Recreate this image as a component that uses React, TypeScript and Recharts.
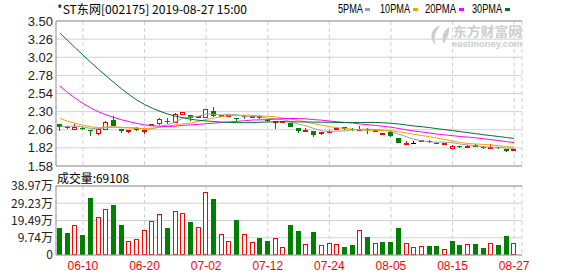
import React from 'react';
import { ComposedChart, Bar, Line, XAxis, YAxis, CartesianGrid, ReferenceLine } from 'recharts';

// trading days shown (2019)
const dates = [
  '06-04', '06-05', '06-06', '06-10', '06-11', '06-12', '06-13', '06-14', '06-17', '06-18',
  '06-19', '06-20', '06-21', '06-24', '06-25', '06-26', '06-27', '06-28', '07-01', '07-02',
  '07-03', '07-04', '07-05', '07-08', '07-09', '07-10', '07-11', '07-12', '07-15', '07-16',
  '07-17', '07-18', '07-19', '07-22', '07-23', '07-24', '07-25', '07-26', '07-29', '07-30',
  '07-31', '08-01', '08-02', '08-05', '08-06', '08-07', '08-08', '08-09', '08-12', '08-13',
  '08-14', '08-15', '08-16', '08-19', '08-20', '08-21', '08-22', '08-23', '08-26', '08-27',
];
const dateTicks = ['06-10', '06-20', '07-02', '07-12', '07-24', '08-05', '08-15', '08-27'];

const opens = [
  2.13, 2.10, 2.06, 2.08, 2.06, 2.00, 2.06, 2.19, 2.07, 2.03,
  2.08, 2.05, 2.12, 2.13, 2.18, 2.15, 2.26, 2.25, 2.22, 2.22,
  2.31, 2.24, 2.25, 2.22, 2.24, 2.22, 2.24, 2.19, 2.16, 2.16,
  2.15, 2.08, 2.05, 2.05, 2.00, 2.04, 2.07, 2.09, 2.07, 2.04,
  2.07, 2.05, 2.01, 2.03, 1.95, 1.88, 1.89, 1.91, 1.91, 1.89,
  1.88, 1.81, 1.85, 1.83, 1.86, 1.83, 1.82, 1.83, 1.81, 1.80,
];
const highs = [
  2.13, 2.11, 2.14, 2.09, 2.06, 2.08, 2.17, 2.24, 2.07, 2.06,
  2.09, 2.06, 2.14, 2.21, 2.22, 2.28, 2.30, 2.26, 2.24, 2.33,
  2.36, 2.26, 2.27, 2.22, 2.25, 2.25, 2.25, 2.20, 2.17, 2.18,
  2.15, 2.08, 2.08, 2.05, 2.03, 2.06, 2.09, 2.10, 2.08, 2.11,
  2.08, 2.07, 2.02, 2.04, 1.95, 1.91, 1.91, 1.93, 1.92, 1.90,
  1.89, 1.86, 1.85, 1.86, 1.87, 1.84, 1.87, 1.83, 1.81, 1.82,
];
const lows = [
  2.05, 2.07, 2.06, 2.06, 1.98, 1.99, 2.06, 2.11, 2.02, 2.02,
  2.05, 2.00, 2.11, 2.12, 2.13, 2.15, 2.25, 2.18, 2.21, 2.21,
  2.23, 2.24, 2.24, 2.17, 2.20, 2.21, 2.20, 2.16, 2.07, 2.15,
  2.09, 2.02, 2.04, 1.97, 1.99, 2.03, 2.06, 2.06, 2.05, 2.04,
  2.00, 2.04, 1.99, 1.96, 1.89, 1.88, 1.88, 1.90, 1.89, 1.87,
  1.87, 1.80, 1.82, 1.82, 1.83, 1.81, 1.81, 1.81, 1.76, 1.79,
];
const closes = [
  2.10, 2.08, 2.09, 2.07, 2.05, 2.07, 2.16, 2.11, 2.04, 2.06,
  2.06, 2.06, 2.13, 2.20, 2.17, 2.27, 2.29, 2.22, 2.24, 2.33,
  2.24, 2.25, 2.26, 2.21, 2.23, 2.24, 2.21, 2.17, 2.17, 2.18,
  2.10, 2.05, 2.06, 1.99, 2.03, 2.05, 2.08, 2.07, 2.06, 2.07,
  2.06, 2.06, 2.02, 1.98, 1.89, 1.89, 1.89, 1.92, 1.90, 1.88,
  1.89, 1.85, 1.83, 1.84, 1.83, 1.82, 1.83, 1.82, 1.78, 1.81,
];
// closes of the 29 sessions before the window, only used for the moving averages
const priorCloses = [
  5.00, 5.00, 4.95, 4.90, 4.85, 4.80, 4.70, 4.60, 4.40, 4.20,
  3.80, 3.61, 3.43, 3.26, 3.10, 2.95, 2.80, 2.66, 2.58, 2.51,
  2.45, 2.38, 2.30, 2.25, 2.22, 2.05, 2.08, 2.12, 2.15,
];
const volumes = [
  152000, 126000, 172000, 112000, 320000, 212000, 262000, 283000, 169000, 79000,
  88000, 144000, 191000, 230000, 152000, 251000, 240000, 186000, 156000, 358000,
  315000, 118000, 79000, 197000, 118000, 71000, 96000, 81000, 94000, 43000,
  169000, 135000, 62000, 129000, 54000, 66000, 60000, 45000, 56000, 139000,
  101000, 67000, 73000, 73000, 152000, 67000, 43000, 49000, 51000, 51000,
  32000, 79000, 56000, 60000, 62000, 39000, 66000, 56000, 107000, 69108,
];

const priceTicks = [1.58, 1.82, 2.06, 2.30, 2.54, 2.78, 3.02, 3.26, 3.50];
const volumeTicks = [0, 97425, 194850, 292275, 389700];

const RED = '#ff0000';
const GREEN = '#008000';
const maColors = { ma5: '#a0a0a0', ma10: '#f0a30a', ma20: '#ff00ff', ma30: '#007035' };

function movingAverage(n: number) {
  const all = priorCloses.concat(closes);
  return closes.map((_, i) => {
    const end = priorCloses.length + i;
    let s = 0;
    for (let k = end - n + 1; k <= end; k++) s += all[k];
    return s / n;
  });
}

const ma5 = movingAverage(5);
const ma10 = movingAverage(10);
const ma20 = movingAverage(20);
const ma30 = movingAverage(30);

const rows = dates.map((date, i) => ({
  date,
  open: opens[i],
  high: highs[i],
  low: lows[i],
  close: closes[i],
  prevClose: i === 0 ? priorCloses[priorCloses.length - 1] : closes[i - 1],
  volume: volumes[i],
  ma5: ma5[i],
  ma10: ma10[i],
  ma20: ma20[i],
  ma30: ma30[i],
}));

function Candle(props: any) {
  const { x, y, width, height, payload } = props;
  if (!payload) return null;
  const { open, close, high, low } = payload;
  const span = high - low;
  const py = (p: number) => (span > 0 ? y + ((high - p) / span) * height : y);
  const left = Math.round(x);
  const w = Math.max(Math.round(width), 3);
  const cx = left + Math.floor(w / 2) + 0.5;
  const top = Math.round(py(Math.max(open, close)));
  const bottom = Math.round(py(Math.min(open, close)));
  const hi = Math.round(py(high));
  const lo = Math.round(py(low));

  if (close > open) {
    return (
      <g>
        {hi < top && <line x1={cx} x2={cx} y1={hi} y2={top} stroke={RED} />}
        {lo > bottom && <line x1={cx} x2={cx} y1={bottom} y2={lo} stroke={RED} />}
        <rect x={left + 0.5} y={top + 0.5} width={w - 1} height={Math.max(bottom - top - 1, 1)} fill="#fff" stroke={RED} />
      </g>
    );
  }
  if (close < open) {
    return (
      <g>
        <line x1={cx} x2={cx} y1={hi} y2={lo} stroke={GREEN} />
        <rect x={left} y={top} width={w} height={Math.max(bottom - top, 1)} fill={GREEN} />
      </g>
    );
  }
  return (
    <g>
      <line x1={cx} x2={cx} y1={hi} y2={lo} stroke="#000" />
      <line x1={left} x2={left + w} y1={top + 0.5} y2={top + 0.5} stroke="#000" />
    </g>
  );
}

function VolumeBar(props: any) {
  const { x, y, width, height, payload } = props;
  if (!payload) return null;
  const left = Math.round(x);
  const w = Math.max(Math.round(width), 3);
  const top = Math.round(y);
  const h = Math.round(y + height) - top;
  if (payload.close >= payload.prevClose) {
    return <rect x={left + 0.5} y={top + 0.5} width={w - 1} height={Math.max(h - 1, 1)} fill="#fff" stroke={RED} />;
  }
  return <rect x={left} y={top} width={w} height={h} fill={GREEN} />;
}

const font = '"Liberation Sans", "Noto Sans CJK SC", sans-serif';
const cjk = '"Noto Sans CJK SC", "Liberation Sans", sans-serif';

const volumeLabel = (v: number) => (v === 0 ? '0' : (Math.round(v / 100) / 100).toFixed(2) + '万');

export default function App() {
  return (
    <div style={{ position: 'absolute', left: 0, top: 0, width: 578, height: 276, background: '#fff', fontFamily: font }}>
      <div style={{ position: 'absolute', left: 0, top: 0 }}>
        <ComposedChart width={578} height={176} data={rows} margin={{ top: 21, right: 56, bottom: 10, left: 0 }}>
          <CartesianGrid vertical={false} stroke="#d0d0d0" />
          <CartesianGrid horizontal={false} stroke="#d0d0d0" strokeDasharray="4 3" />
          <XAxis dataKey="date" ticks={dateTicks} interval={0} hide padding={{ left: 0, right: 4 }} />
          <YAxis
            domain={[1.58, 3.5]}
            ticks={priceTicks}
            interval={0}
            width={56}
            allowDataOverflow
            tickLine={false}
            tickSize={0}
            tickMargin={3}
            axisLine={{ stroke: '#999' }}
            tick={{ fontSize: 13, fill: '#222', fontFamily: font }}
            tickFormatter={(v: number) => v.toFixed(2)}
          />
          <YAxis yAxisId="r" orientation="right" width={0} domain={[1.58, 3.5]} tick={false} tickLine={false} axisLine={{ stroke: '#999' }} />
          <ReferenceLine y={3.5} stroke="#999" />
          <ReferenceLine y={1.58} stroke="#999" />
          <Bar dataKey={(d: any) => [d.low, d.high]} shape={Candle} barSize={5} isAnimationActive={false} />
          <Line dataKey="ma5" stroke={maColors.ma5} dot={false} strokeWidth={1} isAnimationActive={false} />
          <Line dataKey="ma10" stroke={maColors.ma10} dot={false} strokeWidth={1} isAnimationActive={false} />
          <Line dataKey="ma20" stroke={maColors.ma20} dot={false} strokeWidth={1} isAnimationActive={false} />
          <Line dataKey="ma30" stroke={maColors.ma30} dot={false} strokeWidth={1} isAnimationActive={false} />
        </ComposedChart>
      </div>
      <div style={{ position: 'absolute', left: 0, top: 0 }}>
        <ComposedChart width={578} height={276} data={rows} margin={{ top: 186, right: 56, bottom: 0, left: 0 }}>
          <CartesianGrid vertical={false} stroke="#d0d0d0" />
          <CartesianGrid horizontal={false} stroke="#d0d0d0" strokeDasharray="4 3" />
          <XAxis
            dataKey="date"
            ticks={dateTicks}
            interval={0}
            height={21}
            padding={{ left: 0, right: 4 }}
            tickLine={false}
            tickSize={0}
            tickMargin={6}
            axisLine={{ stroke: '#999' }}
            tick={{ fontSize: 12, fill: RED, fontFamily: font }}
          />
          <YAxis
            domain={[0, 389700]}
            ticks={volumeTicks}
            interval={0}
            width={56}
            allowDataOverflow
            tickLine={false}
            tickSize={0}
            tickMargin={3}
            axisLine={{ stroke: '#999' }}
            tick={{ fontSize: 12, fill: '#222', fontFamily: cjk }}
            tickFormatter={volumeLabel}
          />
          <YAxis yAxisId="r" orientation="right" width={0} domain={[0, 389700]} tick={false} tickLine={false} axisLine={{ stroke: '#999' }} />
          <ReferenceLine y={389700} stroke="#999" />
          <Bar dataKey="volume" shape={VolumeBar} barSize={5} isAnimationActive={false} />
        </ComposedChart>
      </div>
      <svg width={578} height={276} style={{ position: 'absolute', left: 0, top: 0, pointerEvents: 'none' }}>
        <g fill="#cdcdcd">
          <path d="M441,25 C431,28 428,38 436,45 C433,38 435,31 441,25 Z" />
          <path d="M449,27 C443,31 441,38 444,44 C447,38 450,33 449,27 Z" />
          <text x={453} y={30} fontSize={13} fontWeight="bold" fontFamily={cjk} dominantBaseline="central" textLength={69} lengthAdjust="spacingAndGlyphs">东方财富网</text>
          <text x={452} y={44} fontSize={9} fontWeight="bold" fontFamily={font} dominantBaseline="central" textLength={70} lengthAdjust="spacingAndGlyphs">eastmoney.com</text>
        </g>
        <text x={57} y={8.5} fontSize={12} fontFamily={cjk} dominantBaseline="central" textLength={190} lengthAdjust="spacingAndGlyphs">*ST东网[002175] 2019-08-27 15:00</text>
        <text x={338} y={8.5} fontSize={12} fontFamily={font} dominantBaseline="central" textLength={25} lengthAdjust="spacingAndGlyphs">5PMA</text>
        <rect x={365} y={8} width={5} height={3} fill={maColors.ma5} />
        <text x={380} y={8.5} fontSize={12} fontFamily={font} dominantBaseline="central" textLength={30} lengthAdjust="spacingAndGlyphs">10PMA</text>
        <rect x={413} y={8} width={5} height={3} fill={maColors.ma10} />
        <text x={425} y={8.5} fontSize={12} fontFamily={font} dominantBaseline="central" textLength={31} lengthAdjust="spacingAndGlyphs">20PMA</text>
        <rect x={459} y={8} width={5} height={3} fill={maColors.ma20} />
        <text x={472} y={8.5} fontSize={12} fontFamily={font} dominantBaseline="central" textLength={30} lengthAdjust="spacingAndGlyphs">30PMA</text>
        <rect x={505} y={8} width={5} height={3} fill={maColors.ma30} />
        <text x={57} y={177} fontSize={12} fontFamily={cjk} dominantBaseline="central" textLength={72} lengthAdjust="spacingAndGlyphs">成交量:69108</text>
      </svg>
    </div>
  );
}
